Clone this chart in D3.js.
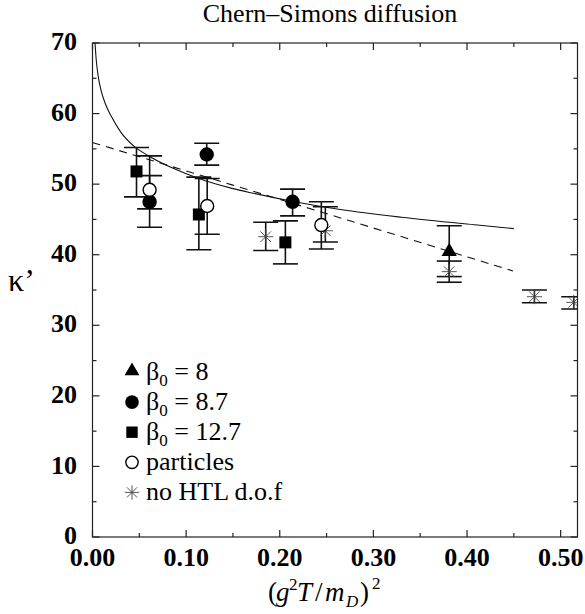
<!DOCTYPE html>
<html>
<head>
<meta charset="utf-8">
<script src="https://cdn.jsdelivr.net/npm/d3@7"></script>
<style>
  body { margin: 0; background: #fff; }
  svg text { font-family: "Liberation Serif", "Times New Roman", Times, "DejaVu Serif", serif; }
</style>
</head>
<body>
<svg id="chart"></svg>
<script>
// tick values
const xTicks = [0, 0.1, 0.2, 0.3, 0.4, 0.5];
const yTicks = [0, 10, 20, 30, 40, 50, 60, 70];

// data points: x, kappa', lower and upper error
const beta8 = [
  { x: 0.381, y: 40.3, lo: 36.9, hi: 44.1 }
];
const beta87 = [
  { x: 0.061, y: 47.5, lo: 43.9, hi: 51.2 },
  { x: 0.122, y: 54.2, lo: 52.7, hi: 55.8 },
  { x: 0.2137, y: 47.5, lo: 45.5, hi: 49.3 }
];
const beta127 = [
  { x: 0.047, y: 51.8, lo: 48.2, hi: 55.2 },
  { x: 0.1136, y: 45.7, lo: 40.7, hi: 51.0 },
  { x: 0.206, y: 41.75, lo: 38.7, hi: 44.8 }
];
const particles = [
  { x: 0.061, y: 49.2, lo: 46.5, hi: 54.0 },
  { x: 0.1225, y: 46.9, lo: 42.9, hi: 50.8 },
  { x: 0.2444, y: 44.2, lo: 40.8, hi: 47.5 }
];
const noHTL = [
  { x: 0.185, y: 42.55, lo: 40.6, hi: 44.6 },
  { x: 0.2487, y: 43.4, lo: 41.8, hi: 46.8 },
  { x: 0.381, y: 37.6, lo: 36.1, hi: 39.1 },
  { x: 0.472, y: 34.05, lo: 33.2, hi: 35.0 },
  { x: 0.514, y: 33.25, lo: 32.3, hi: 34.05 }
];

// fit curves
const solidFit = [
  [0.0027, 70], [0.004, 67.6], [0.0062, 65.2], [0.0095, 63.1], [0.0137, 61.4],
  [0.0205, 59.5], [0.03, 57.4], [0.0458, 55.2], [0.060, 54.0], [0.0886, 52.1],
  [0.1136, 50.8], [0.149, 49.4], [0.172, 48.7], [0.22, 47.4], [0.2648, 46.4],
  [0.33, 45.3], [0.411, 44.2], [0.45, 43.7]
];
const dashedFit = [[0, 55.9], [0.149, 49.9], [0.275, 44.8], [0.449, 37.7]];

const legendItems = [
  { sym: "triangle", base: "β", sub: "0", rest: " = 8" },
  { sym: "circle", base: "β", sub: "0", rest: " = 8.7" },
  { sym: "square", base: "β", sub: "0", rest: " = 12.7" },
  { sym: "open", base: "particles", sub: "", rest: "" },
  { sym: "star", base: "no HTL d.o.f", sub: "", rest: "" }
];

const W = 585, H = 614;
const margin = { top: 43, right: 7.5, bottom: 77, left: 92.5 };
const FONT = "'Liberation Serif', 'Times New Roman', Times, serif";

const svg = d3.select("#chart").attr("width", W).attr("height", H)
  .attr("font-family", FONT);

const x = d3.scaleLinear().domain([0, 0.518]).range([margin.left, W - margin.right]);
const y = d3.scaleLinear().domain([0, 70]).range([H - margin.bottom, margin.top]);

svg.append("defs").append("clipPath").attr("id", "clip")
  .append("rect")
  .attr("x", x(0)).attr("y", y(70))
  .attr("width", x(0.518) - x(0)).attr("height", y(0) - y(70));

// ticks, inward on every side
const ax = svg.append("g").attr("stroke", "#222").attr("stroke-width", 1.2);
d3.range(0, 0.5001, 0.05).forEach(function (v, i) {
  const len = i % 2 === 0 ? 7 : 4;
  ax.append("line").attr("x1", x(v)).attr("x2", x(v)).attr("y1", y(0)).attr("y2", y(0) - len);
  ax.append("line").attr("x1", x(v)).attr("x2", x(v)).attr("y1", y(70)).attr("y2", y(70) + len);
});
d3.range(0, 70.001, 5).forEach(function (v, i) {
  const len = i % 2 === 0 ? 7 : 4;
  ax.append("line").attr("y1", y(v)).attr("y2", y(v)).attr("x1", x(0)).attr("x2", x(0) + len);
  ax.append("line").attr("y1", y(v)).attr("y2", y(v)).attr("x1", x(0.518)).attr("x2", x(0.518) - len);
});
ax.append("rect")
  .attr("x", x(0)).attr("y", y(70))
  .attr("width", x(0.518) - x(0)).attr("height", y(0) - y(70))
  .attr("fill", "none");

// tick labels
svg.append("g").selectAll("text").data(xTicks).enter().append("text")
  .attr("x", d => x(d)).attr("y", 566)
  .attr("text-anchor", "middle")
  .attr("font-size", 26).attr("font-weight", "bold")
  .text(d => d3.format(".2f")(d));

svg.append("g").selectAll("text").data(yTicks).enter().append("text")
  .attr("x", 77).attr("y", d => y(d) - 2)
  .attr("dy", "0.35em")
  .attr("text-anchor", "end")
  .attr("font-size", 26).attr("font-weight", "bold")
  .text(d => d);

// title and axis labels
svg.append("text").attr("x", 330).attr("y", 22)
  .attr("text-anchor", "middle").attr("font-size", 26)
  .text("Chern–Simons diffusion");

svg.append("text").attr("x", 8).attr("y", 291)
  .attr("font-size", 32).text("κ’");

// (g^2 T / m_D)^2
const xl = svg.append("text").attr("font-size", 27);
xl.append("tspan").attr("x", 268).attr("y", 601).text("(");
xl.append("tspan").attr("x", 276).attr("font-style", "italic").text("g");
xl.append("tspan").attr("x", 289).attr("y", 590).attr("font-size", 17).text("2");
xl.append("tspan").attr("x", 297).attr("y", 601).attr("font-style", "italic").text("T");
xl.append("tspan").attr("x", 315).text("/");
xl.append("tspan").attr("x", 325).attr("font-style", "italic").text("m");
xl.append("tspan").attr("x", 346).attr("y", 607).attr("font-style", "italic").attr("font-size", 17).text("D");
xl.append("tspan").attr("x", 360).attr("y", 601).text(")");
xl.append("tspan").attr("x", 372).attr("y", 589).attr("font-size", 17).text("2");

// fit curves
const plot = svg.append("g").attr("clip-path", "url(#clip)");

plot.append("path").datum(solidFit)
  .attr("d", d3.line().x(d => x(d[0])).y(d => y(d[1])).curve(d3.curveMonotoneX))
  .attr("fill", "none").attr("stroke", "#111").attr("stroke-width", 1.1);

plot.append("path").datum(dashedFit)
  .attr("d", d3.line().x(d => x(d[0])).y(d => y(d[1])).curve(d3.curveMonotoneX))
  .attr("fill", "none").attr("stroke", "#111").attr("stroke-width", 1.1)
  .attr("stroke-dasharray", "8,6");

// markers
function drawSymbol(g, sym, cx, cy, s) {
  if (sym === "triangle") {
    g.append("path")
      .attr("d", d3.symbol().type(d3.symbolTriangle).size(s * 100)())
      .attr("transform", "translate(" + cx + "," + (cy - 1) + ")")
      .attr("fill", "#000");
  } else if (sym === "circle") {
    g.append("circle").attr("cx", cx).attr("cy", cy).attr("r", 7.2 * s).attr("fill", "#000");
  } else if (sym === "square") {
    g.append("rect").attr("x", cx - 6 * s).attr("y", cy - 6 * s)
      .attr("width", 12 * s).attr("height", 12 * s).attr("fill", "#000");
  } else if (sym === "open") {
    g.append("circle").attr("cx", cx).attr("cy", cy).attr("r", 6.5 * s)
      .attr("fill", "#fff").attr("stroke", "#000").attr("stroke-width", 1.4);
  } else if (sym === "star") {
    const r = 7.5 * s;
    [0, 45, 90, 135].forEach(function (a) {
      const t = a * Math.PI / 180;
      g.append("line")
        .attr("x1", cx - r * Math.cos(t)).attr("y1", cy - r * Math.sin(t))
        .attr("x2", cx + r * Math.cos(t)).attr("y2", cy + r * Math.sin(t))
        .attr("stroke", "#444").attr("stroke-width", 0.9);
    });
  }
}

function drawErrors(data) {
  const g = plot.append("g").attr("stroke", "#111").attr("stroke-width", 1.6);
  data.forEach(function (d) {
    g.append("line").attr("x1", x(d.x)).attr("x2", x(d.x)).attr("y1", y(d.lo)).attr("y2", y(d.hi));
    [d.lo, d.hi].forEach(function (v) {
      g.append("line").attr("x1", x(d.x) - 12.5).attr("x2", x(d.x) + 12.5).attr("y1", y(v)).attr("y2", y(v));
    });
  });
}

const series = [
  { data: noHTL, sym: "star" },
  { data: beta127, sym: "square" },
  { data: beta87, sym: "circle" },
  { data: particles, sym: "open" },
  { data: beta8, sym: "triangle" }
];
series.forEach(s => drawErrors(s.data));
series.forEach(function (s) {
  const g = plot.append("g");
  s.data.forEach(d => drawSymbol(g, s.sym, x(d.x), y(d.y), 1));
});

// legend
const leg = svg.append("g");
legendItems.forEach(function (it, i) {
  const cy = 372 + i * 30.1;
  drawSymbol(leg, it.sym, 132, cy, 0.95);
  const t = leg.append("text").attr("x", 146).attr("y", cy + 8).attr("font-size", 26);
  t.append("tspan").text(it.base);
  if (it.sub) {
    t.append("tspan").attr("font-size", 17).attr("dy", 6).text(it.sub);
    t.append("tspan").attr("dy", -6).text(it.rest);
  }
});
</script>
</body>
</html>
